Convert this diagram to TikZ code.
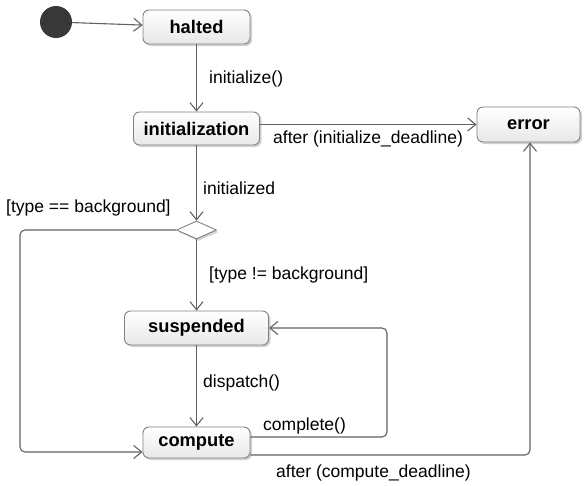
\documentclass[tikz,border=0pt]{standalone}
\usepackage{fontspec}
\setmainfont{Liberation Sans}
\usetikzlibrary{arrows.meta,shapes.geometric,shadows}
\begin{document}
\begin{tikzpicture}[x=1pt,y=-1pt,
  state/.style={draw=black!50, line width=0.9pt, rounded corners=6pt,
    top color=white, bottom color=black!9,
    drop shadow={shadow xshift=2pt,shadow yshift=-2pt,fill=black!35,opacity=0.5},
    font=\fontsize{18.3}{20}\selectfont\bfseries, inner sep=0pt},
  lbl/.style={font=\fontsize{17.5}{20}\selectfont, inner sep=0pt, anchor=west,
    text height=12.5pt, text depth=3.5pt},
  arr/.style={draw=black!62, line width=1.1pt,
    -{Straight Barb[length=8pt,width=13pt]}},
  loop/.style={arr, rounded corners=5pt},
  ]
\useasboundingbox (0,0) rectangle (586,485);

% states
\node[circle, fill=black!78, minimum size=32pt, inner sep=0pt] (start) at (56,22) {};
\node[state, minimum width=107pt, minimum height=34pt] (halted) at (196.5,27) {halted};
\node[state, minimum width=126pt, minimum height=33pt] (initialization) at (196.5,128.5) {initialization};
\node[state, minimum width=103pt, minimum height=35pt] (error) at (528.5,124.5) {error};
\node[diamond, draw=black!50, line width=0.9pt, fill=white, inner sep=0pt,
      minimum width=40pt, minimum height=18pt,
      drop shadow={shadow xshift=2pt,shadow yshift=-2pt,fill=black!35,opacity=0.5}]
      (choice) at (196.5,230) {};
\node[state, minimum width=144pt, minimum height=34pt] (suspended) at (196.5,328) {suspended};
\node[state, minimum width=107pt, minimum height=31pt] (compute) at (196.5,442.5) {compute};

% bends of the routed transitions
\coordinate (lx) at (20,452);
\coordinate (rx) at (387,437);
\coordinate (ex) at (530,455);

% transitions
\draw[arr] (start) -- (halted);
\draw[arr] (halted) -- (initialization);
\draw[arr] (initialization.east |- error.west) -- (error.west);
\draw[arr] (initialization) -- (choice);
\draw[arr] (choice) -- (suspended);
\draw[loop] (choice.west) -| (lx) -- (compute.west |- lx);
\draw[arr] (suspended) -- (compute);
\draw[loop] (compute.east |- rx) -- (rx) |- (suspended.east);
\draw[loop] (compute.east |- ex) -- (ex) -- (ex |- error.south);

% transition labels
\node[lbl] (l1) at (209,79) {initialize()};
\node[lbl] (l2) at (273,139) {after (initialize\_deadline)};
\node[lbl] (l3) at (203,190) {initialized};
\node[lbl] (l4) at (6,208) {[type == background]};
\node[lbl] (l5) at (209,275) {[type != background]};
\node[lbl] (l6) at (203,383) {dispatch()};
\node[lbl] (l7) at (263,426) {complete()};
\node[lbl] (l8) at (276,473) {after (compute\_deadline)};
\end{tikzpicture}
\end{document}
